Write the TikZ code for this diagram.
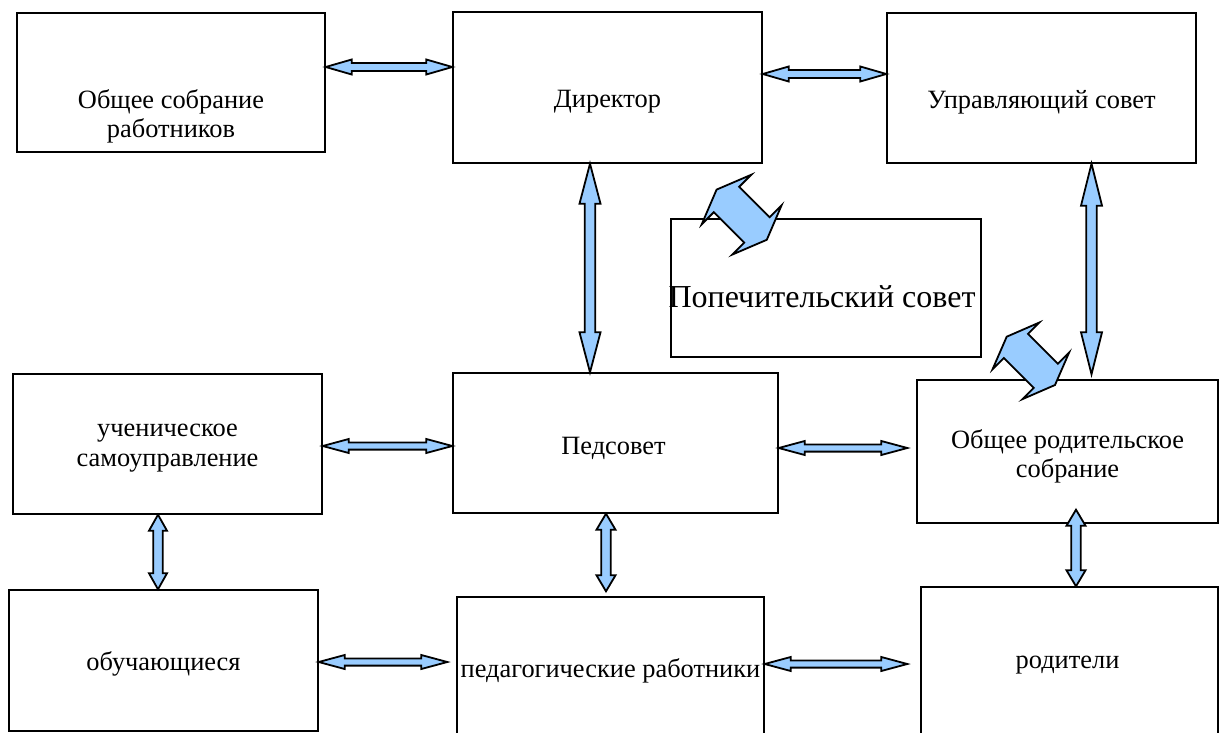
\documentclass[tikz,border=0pt]{standalone}
\usepackage{fontspec}
\setmainfont{Liberation Serif}
\usetikzlibrary{calc}
\definecolor{arrblue}{HTML}{99CCFF}
\tikzset{
  box/.style={draw, line width=1.4pt, rectangle, inner sep=0pt},
  txt/.style={align=center, inner sep=0pt, font=\fontsize{26.4}{29.5}\selectfont},
  bigtxt/.style={align=center, inner sep=0pt, font=\fontsize{32}{38}\selectfont},
  arr/.style={draw=black, fill=arrblue, line width=1.8pt, line join=miter},
}
% #1 from, #2 to, #3 body half width, #4 head half width, #5 head length
\newcommand\dblarrow[5]{%
  \coordinate (ha) at ($(#1)!#5!(#2)$);
  \coordinate (hb) at ($(#2)!#5!(#1)$);
  \draw[arr] (#1) -- ($(ha)!#4!90:(#2)$) -- ($(ha)!#3!90:(#2)$)
    -- ($(hb)!#3!-90:(#1)$) -- ($(hb)!#4!-90:(#1)$) -- (#2)
    -- ($(hb)!#4!90:(#1)$) -- ($(hb)!#3!90:(#1)$)
    -- ($(ha)!#3!-90:(#2)$) -- ($(ha)!#4!-90:(#2)$) -- cycle;}
\begin{document}
\begin{tikzpicture}[x=1pt,y=-1pt]
\useasboundingbox (0,0) rectangle (1220,733);
\clip (0,0) rectangle (1220,733);
\fill[white] (0,0) rectangle (1220,733);

% boxes
\node[box, minimum width=308pt, minimum height=139pt] (os)  at (171,82.5) {};
\node[box, minimum width=309pt, minimum height=151pt] (dir) at (607.5,87.5) {};
\node[box, minimum width=309pt, minimum height=150pt] (us)  at (1041.5,88) {};
\node[box, minimum width=310pt, minimum height=138pt] (pop) at (826,288) {};
\node[box, minimum width=309pt, minimum height=140pt] (uch) at (167.5,444) {};
\node[box, minimum width=325pt, minimum height=140pt] (ped) at (615.5,443) {};
\node[box, minimum width=301pt, minimum height=143pt] (ors) at (1067.5,451.5) {};
\node[box, minimum width=309pt, minimum height=141pt] (obu) at (163.5,660.5) {};
\node[box, minimum width=307pt, minimum height=145pt] (pr)  at (610.5,669.5) {};
\node[box, minimum width=297pt, minimum height=150pt] (rod) at (1069.5,662) {};

% texts
\node[txt] (tos)  at ($(os.center)+(0,34)$)  {Общее собрание\\работников};
\node[txt] (tdir) at ($(dir.center)+(0,14)$) {Директор};
\node[txt] (tus)  at ($(us.center)+(0,14)$)  {Управляющий совет};
\node[bigtxt] (tpop) at ($(pop.center)+(-4,9)$) {Попечительский совет};
\node[txt] (tuch) at ($(uch.center)+(0,4)$)  {ученическое\\самоуправление};
\node[txt] (tped) at ($(ped.center)+(-2,5)$) {Педсовет};
\node[txt] (tors) at ($(ors.center)+(0,5)$)  {Общее родительское\\собрание};
\node[txt] (tobu) at ($(obu.center)+(0,3)$)  {обучающиеся};
\node[txt] (tpr)  at ($(pr.center)+(0,1)$)   {педагогические работники};
\node[txt] (trod) at ($(rod.center)+(-2,3)$) {родители};

% connector end points
\coordinate (h1a) at (os.east |- 0,67);   \coordinate (h1b) at (dir.west |- 0,67);
\coordinate (h2a) at (dir.east |- 0,74);  \coordinate (h2b) at (us.west |- 0,74);
\coordinate (h3a) at (uch.east |- 0,446); \coordinate (h3b) at (ped.west |- 0,446);
\coordinate (h4a) at (ped.east |- 0,448); \coordinate (h4b) at ([xshift=-9pt]ors.west |- 0,448);
\coordinate (h5a) at (obu.east |- 0,662); \coordinate (h5b) at ([xshift=-9pt]pr.west |- 0,662);
\coordinate (h6a) at (pr.east |- 0,664);  \coordinate (h6b) at ([xshift=-13pt]rod.west |- 0,664);
\coordinate (v1a) at ([xshift=-17.5pt]dir.south); \coordinate (v1b) at (v1a |- ped.north);
\coordinate (v2a) at ([xshift=50pt]us.south);     \coordinate (v2b) at ([yshift=5pt]v2a |- ors.north);
\coordinate (v3a) at ([xshift=-9.5pt]uch.south);  \coordinate (v3b) at (v3a |- obu.north);
\coordinate (v4a) at ([xshift=-9.5pt]ped.south);  \coordinate (v4b) at ([yshift=5pt]v4a |- pr.north);
\coordinate (v5a) at ([xshift=8.5pt,yshift=14pt]ors.south); \coordinate (v5b) at (v5a |- rod.north);
\coordinate (d1a) at (716.6,189.6); \coordinate (d1b) at (766.8,239.8);
\coordinate (d2a) at (1006.7,336.7); \coordinate (d2b) at (1055,385);

% arrows
\dblarrow{h1a}{h1b}{4pt}{7.5pt}{26pt}
\dblarrow{h2a}{h2b}{4pt}{7.5pt}{26pt}
\dblarrow{h3a}{h3b}{3.6pt}{7pt}{26pt}
\dblarrow{h4a}{h4b}{3.6pt}{7pt}{26pt}
\dblarrow{h5a}{h5b}{3.6pt}{7pt}{26pt}
\dblarrow{h6a}{h6b}{3.6pt}{7pt}{26pt}
\dblarrow{v1a}{v1b}{5.3pt}{10.5pt}{40pt}
\dblarrow{v2a}{v2b}{5.3pt}{10.5pt}{42pt}
\dblarrow{v3a}{v3b}{4.8pt}{9pt}{16pt}
\dblarrow{v4a}{v4b}{4.8pt}{9.5pt}{16pt}
\dblarrow{v5a}{v5b}{4.8pt}{9.5pt}{16pt}
\dblarrow{d1a}{d1b}{18pt}{35pt}{14pt}
\dblarrow{d2a}{d2b}{17pt}{33pt}{13pt}
\end{tikzpicture}
\end{document}
